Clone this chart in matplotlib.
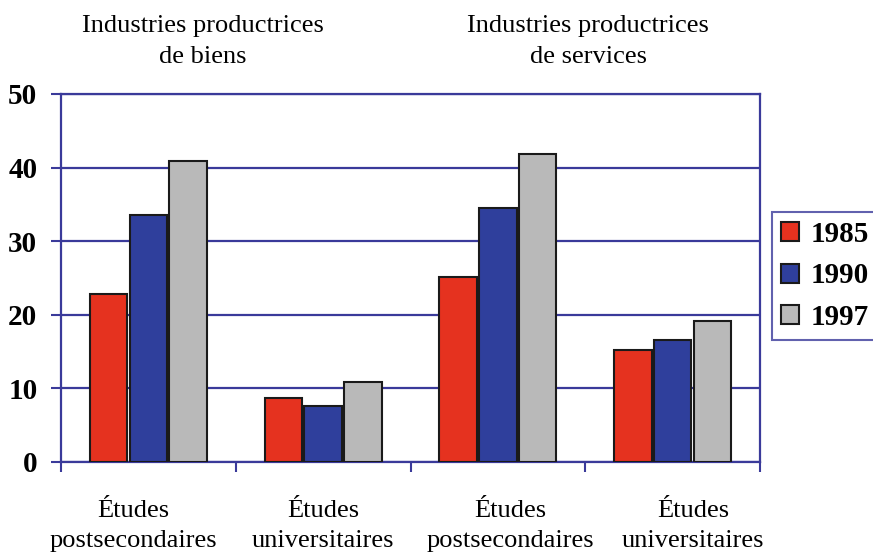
import matplotlib
matplotlib.use("Agg")
import matplotlib.pyplot as plt
import numpy as np

plt.rcParams['font.family'] = ['Liberation Serif', 'DejaVu Serif']

categories = ["Études\npostsecondaires", "Études\nuniversitaires",
              "Études\npostsecondaires", "Études\nuniversitaires"]
headers = ["Industries productrices\nde biens", "Industries productrices\nde services"]
years = ["1985", "1990", "1997"]
v1985 = [22.8, 8.7, 25.1, 15.2]
v1990 = [33.6, 7.6, 34.5, 16.6]
v1997 = [40.9, 10.9, 41.8, 19.2]
colors = ["#e5321f", "#2f3f9c", "#b9b9b9"]
navy = "#3a3a9a"

W, H = 873, 552
fig = plt.figure(figsize=(W / 100, H / 100), dpi=100)
ax = fig.add_axes([61 / W, 1 - 462 / H, (760 - 61) / W, (462 - 94) / H])

x = np.arange(len(categories))
w = 0.215
for i, (vals, lab) in enumerate(zip([v1985, v1990, v1997], years)):
    ax.bar(x + (i - 1) * (w + 0.012), vals, width=w, color=colors[i],
           edgecolor="#1a1a1a", linewidth=1.5, label=lab, zorder=3)

ax.set_xlim(-0.5, 3.5)
ax.set_ylim(0, 50)
ax.set_yticks([0, 10, 20, 30, 40, 50])
ax.set_yticklabels(["0", "10", "20", "30", "40", "50"], fontsize=21, fontweight="bold")
ax.yaxis.grid(True, color=navy, linewidth=1.6, zorder=0)
ax.set_xticks([-0.5, 0.5, 1.5, 2.5, 3.5])
ax.set_xticklabels([])
ax.tick_params(axis="both", direction="out", color=navy, width=1.5, length=7)
ax.tick_params(axis="y", pad=10)
for s in ax.spines.values():
    s.set_color(navy)
    s.set_linewidth(1.6)

# category labels under the axis, two lines each (pixel positions of the reference)
label_cx = [133, 323, 510, 693]
for cx, lab in zip(label_cx, categories):
    for j, line in enumerate(lab.split("\n")):
        fig.text(cx / W, 1 - (517 + 30 * j) / H, line, ha="center", va="baseline", fontsize=19)

header_cx = [203, 588]
for cx, h in zip(header_cx, headers):
    for j, line in enumerate(h.split("\n")):
        fig.text(cx / W, 1 - (32 + 31 * j) / H, line, ha="center", va="baseline", fontsize=19)

# legend runs off the right edge of the picture, like the reference
leg = fig.legend(loc="upper left", bbox_to_anchor=(772 / W, 1 - 212 / H, 130 / W, 0),
                 mode="expand", prop={"weight": "bold", "size": 21}, frameon=True, fancybox=False,
                 handlelength=0.62, handleheight=0.62, handletextpad=0.4,
                 labelspacing=0.5, borderpad=0.3, borderaxespad=0)
leg.get_frame().set_edgecolor(navy)
leg.get_frame().set_linewidth(1.5)

fig.savefig("out.png", dpi=100)
